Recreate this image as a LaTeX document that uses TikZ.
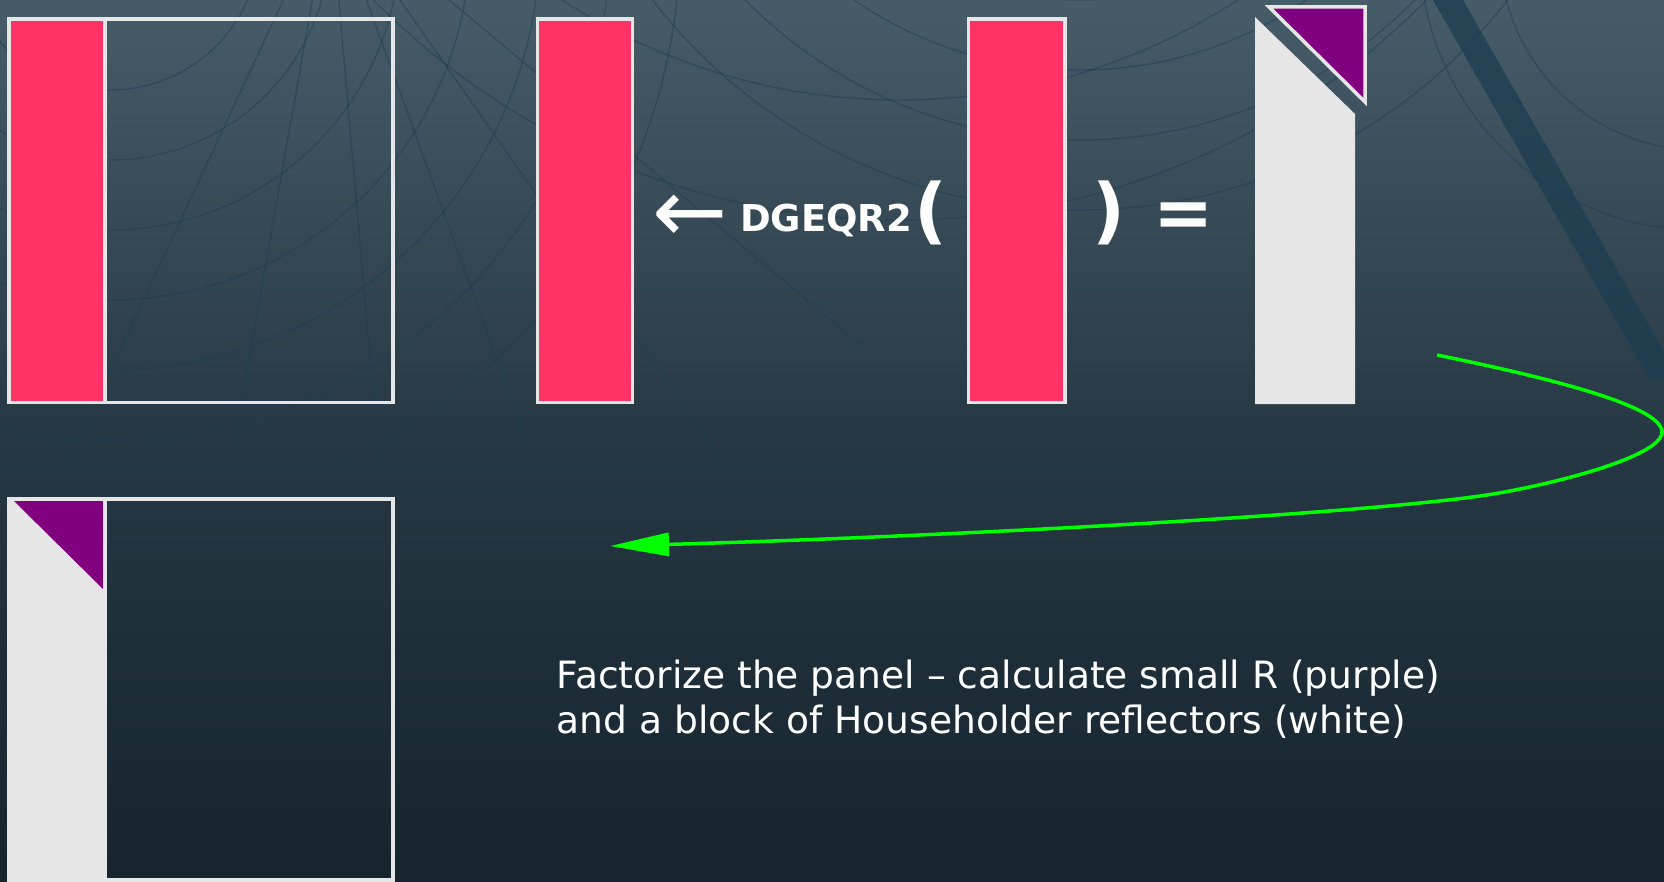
\documentclass[tikz,border=0pt]{standalone}
\usepackage{fontspec}
\setmainfont{DejaVu Sans}
\usetikzlibrary{arrows.meta}
\definecolor{pinkc}{HTML}{FF3366}
\definecolor{purp}{HTML}{800080}
\definecolor{lgray}{HTML}{E6E6E6}
\definecolor{bgtop}{HTML}{475C69}
\definecolor{bgmid}{HTML}{263844}
\definecolor{bgbot}{HTML}{16242D}
\definecolor{texline}{HTML}{1B3D51}
\definecolor{greenc}{HTML}{00FF00}
\tikzset{
  frame/.style={draw=lgray, line width=1.75pt},
  pinkblock/.style={fill=pinkc, draw=lgray, line width=1.75pt},
  panel/.style={fill=lgray},
  rblock/.style={fill=purp, draw=lgray, line width=1.75pt},
  rplain/.style={fill=purp},
  texture/.style={draw=texline, line width=0.7pt},
  eqtext/.style={text=white, inner sep=0pt, outer sep=0pt},
  desc/.style={text=white, inner sep=0pt, font=\fontsize{18.8}{22.5}\selectfont},
  flow/.style={draw=greenc, line width=1.75pt, -{Triangle[length=29.5pt,width=11.5pt]}}
}
\begin{document}
\begin{tikzpicture}[x=0.5pt,y=-0.5pt]
\useasboundingbox (0,0) rectangle (1664,882);
% background
\shade[top color=bgtop, bottom color=bgbot, middle color=bgmid] (0,0) rectangle (1664,882);
% faint texture
\begin{scope}
\clip (0,0) rectangle (1664,470);
\begin{scope}[opacity=0.45]
\foreach \r in {150,220,290,360,430,500,570} {\draw[texture] (110,-60) circle[radius=\r];}
\foreach \r in {330,400,470,540} {\draw[texture] (1080,-330) circle[radius=\r];}
\foreach \r in {500,620,740} {\draw[texture] (900,-520) circle[radius=\r];}
\foreach \a in {-30,-15,0,15,30,45} {\draw[texture] (330,-100) -- ++(\a+250:-700);}
\foreach \r in {200,280} {\draw[texture] (1700,-50) circle[radius=\r];}
\end{scope}
\fill[texline, opacity=0.75] (1433,0) -- (1463,0) -- (1680,380) -- (1650,380) -- cycle;
\end{scope}
% top-left matrix with panel
\draw[frame] (9,19) rectangle (393,402.5);
\draw[pinkblock] (9,19) rectangle (105,402.5);
% extracted panel
\draw[pinkblock] (537.5,19) rectangle (632.5,402.5);
% panel argument
\draw[pinkblock] (968.5,19) rectangle (1065,402.5);
% result: reflectors and R
\fill[panel] (1255,17) -- (1355,114) -- (1355,404) -- (1255,404) -- cycle;
\draw[rblock, line join=miter] (1269,7) -- (1365,7) -- (1365,102) -- cycle;
% bottom matrix
\fill[panel] (9,499) rectangle (105,880);
\fill[rplain] (14,501) -- (103,501) -- (103,589) -- cycle;
\draw[frame] (9,499) rectangle (393,880);
\draw[frame] (105,499) -- (105,880);
% texts
\node[eqtext, font=\fontsize{45}{50}\selectfont, anchor=center] (larr) at (690,219) {←};
\node[eqtext, font=\fontsize{18.5}{22}\selectfont\bfseries, anchor=base west] (fname) at (740,232) {DGEQR2};
\node[eqtext, font=\fontsize{36}{40}\selectfont\bfseries, anchor=center] (lpar) at (931,212.5) {(};
\node[eqtext, font=\fontsize{36}{40}\selectfont\bfseries, anchor=center] (rpar) at (1109,212.5) {)};
\node[eqtext, font=\fontsize{36}{40}\selectfont\bfseries, anchor=base] (eqs) at (1184,238) {=};
\node[desc, anchor=base west] (line1) at (556.5,688) {Factorize the panel – calculate small R (purple)};
\node[desc, anchor=base west] (line2) at (556.5,733) {and a block of Householder reflectors (white)};
% green arrow
\coordinate (gs) at (1437,355);
\coordinate (gr) at (1662,432);
\coordinate (gm) at (1480,496);
\coordinate (ge) at (610,546);
\draw[flow] (gs) .. controls (1540,376) and (1662,405) .. (gr)
  .. controls (1662,458) and (1540,487.6) .. (gm)
  .. controls (1330,517) and (900,538) .. (ge);
\end{tikzpicture}
\end{document}
